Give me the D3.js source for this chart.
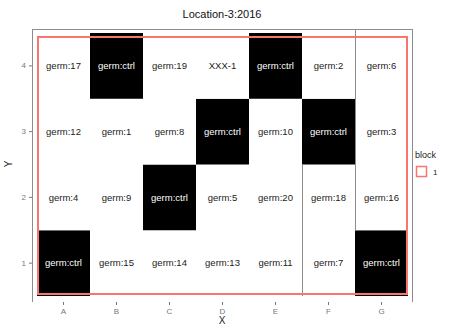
<!DOCTYPE html>
<html>
<head>
<meta charset="utf-8">
<script src="https://cdn.jsdelivr.net/npm/d3@7"></script>
<style>
  html, body { margin: 0; padding: 0; background: #fff; }
  svg { display: block; font-family: "Liberation Sans", Arial, sans-serif; }
</style>
</head>
<body>
<svg id="chart" width="451" height="328"></svg>
<script>
// Field layout: columns A–G, rows 1–4
const columns = ["A", "B", "C", "D", "E", "F", "G"];
const rows = [1, 2, 3, 4];
const row1 = ["germ:ctrl", "germ:15", "germ:14", "germ:13", "germ:11", "germ:7", "germ:ctrl"];
const row2 = ["germ:4", "germ:9", "germ:ctrl", "germ:5", "germ:20", "germ:18", "germ:16"];
const row3 = ["germ:12", "germ:1", "germ:8", "germ:ctrl", "germ:10", "germ:ctrl", "germ:3"];
const row4 = ["germ:17", "germ:ctrl", "germ:19", "XXX-1", "germ:ctrl", "germ:2", "germ:6"];
const blocks = ["1"];
const title = "Location-3:2016";

const svg = d3.select("#chart");
const pLeft = 37, pRight = 408, pTop = 33, pBottom = 296;

const x = d3.scaleBand().domain(columns).range([pLeft, pRight]);
const y = d3.scaleBand().domain(rows.slice().reverse()).range([pTop, pBottom]);

const cells = [];
[row1, row2, row3, row4].forEach((r, i) => {
  r.forEach((lab, j) => cells.push({ col: columns[j], row: rows[i], label: lab }));
});

// panel frame (top, left, right)
const frame = svg.append("g").attr("stroke", "#8c8c8c").attr("stroke-width", 1).attr("fill", "none");
frame.append("line").attr("x1", 32).attr("x2", 412.5).attr("y1", 29.5).attr("y2", 29.5);
frame.append("line").attr("x1", 32.5).attr("x2", 32.5).attr("y1", 29).attr("y2", 302);
frame.append("line").attr("x1", 412.5).attr("x2", 412.5).attr("y1", 29).attr("y2", 302);

// tiles
svg.append("g").selectAll("rect").data(cells).join("rect")
  .attr("x", d => x(d.col))
  .attr("y", d => y(d.row))
  .attr("width", x.bandwidth())
  .attr("height", y.bandwidth())
  .attr("fill", d => d.label === "germ:ctrl" ? "#000" : "#fff");

// plot boundary separators
const sep = svg.append("g").attr("stroke", "#8c8c8c").attr("stroke-width", 1);
sep.append("line")
  .attr("x1", x("G") + 0.5).attr("x2", x("G") + 0.5)
  .attr("y1", 29).attr("y2", y(1));
sep.append("line")
  .attr("x1", x("F") + 0.5).attr("x2", x("F") + 0.5)
  .attr("y1", y(3) + y.bandwidth()).attr("y2", pBottom);

// labels
svg.append("g").selectAll("text").data(cells).join("text")
  .attr("x", d => x(d.col) + x.bandwidth() / 2)
  .attr("y", d => y(d.row) + y.bandwidth() / 2)
  .attr("dy", "0.35em")
  .attr("text-anchor", "middle")
  .attr("font-size", 9.5)
  .attr("fill", d => d.label === "germ:ctrl" ? "#fff" : "#222")
  .text(d => d.label);

// block outline
svg.append("rect")
  .attr("x", pLeft + 1).attr("y", 37)
  .attr("width", pRight - pLeft - 2).attr("height", pBottom - 37 - 2)
  .attr("fill", "none")
  .attr("stroke", "#F8766D")
  .attr("stroke-width", 2);

// axes
const xAxis = svg.append("g")
  .attr("transform", "translate(0,302)")
  .call(d3.axisBottom(x).tickSize(3).tickPadding(3));
const yAxis = svg.append("g")
  .attr("transform", "translate(32,0)")
  .call(d3.axisLeft(y).tickSize(3).tickPadding(3));
[xAxis, yAxis].forEach(a => {
  a.select(".domain").remove();
  a.selectAll(".tick line").attr("stroke", "#777");
  a.selectAll(".tick text").attr("fill", "#777").attr("font-size", 8)
    .attr("font-family", "Liberation Sans, Arial, sans-serif");
});

// titles
svg.append("text").attr("x", 222).attr("y", 18).attr("text-anchor", "middle")
  .attr("font-size", 11).attr("fill", "#111").text(title);
svg.append("text").attr("x", 222).attr("y", 324).attr("text-anchor", "middle")
  .attr("font-size", 10).attr("fill", "#222").text("X");
svg.append("text").attr("transform", "translate(12,164) rotate(-90)").attr("text-anchor", "middle")
  .attr("font-size", 10).attr("fill", "#222").text("Y");

// legend
const lg = svg.append("g").attr("transform", "translate(415,0)");
lg.append("text").attr("x", 0).attr("y", 158).attr("font-size", 9).attr("fill", "#222").text("block");
lg.selectAll("rect").data(blocks).join("rect")
  .attr("x", 1.5).attr("y", 166.5).attr("width", 10).attr("height", 10)
  .attr("fill", "none").attr("stroke", "#F8766D").attr("stroke-width", 1.5);
lg.selectAll("text.lab").data(blocks).join("text").attr("class", "lab")
  .attr("x", 18).attr("y", 175).attr("font-size", 8).attr("fill", "#222").text(d => d);
</script>
</body>
</html>
